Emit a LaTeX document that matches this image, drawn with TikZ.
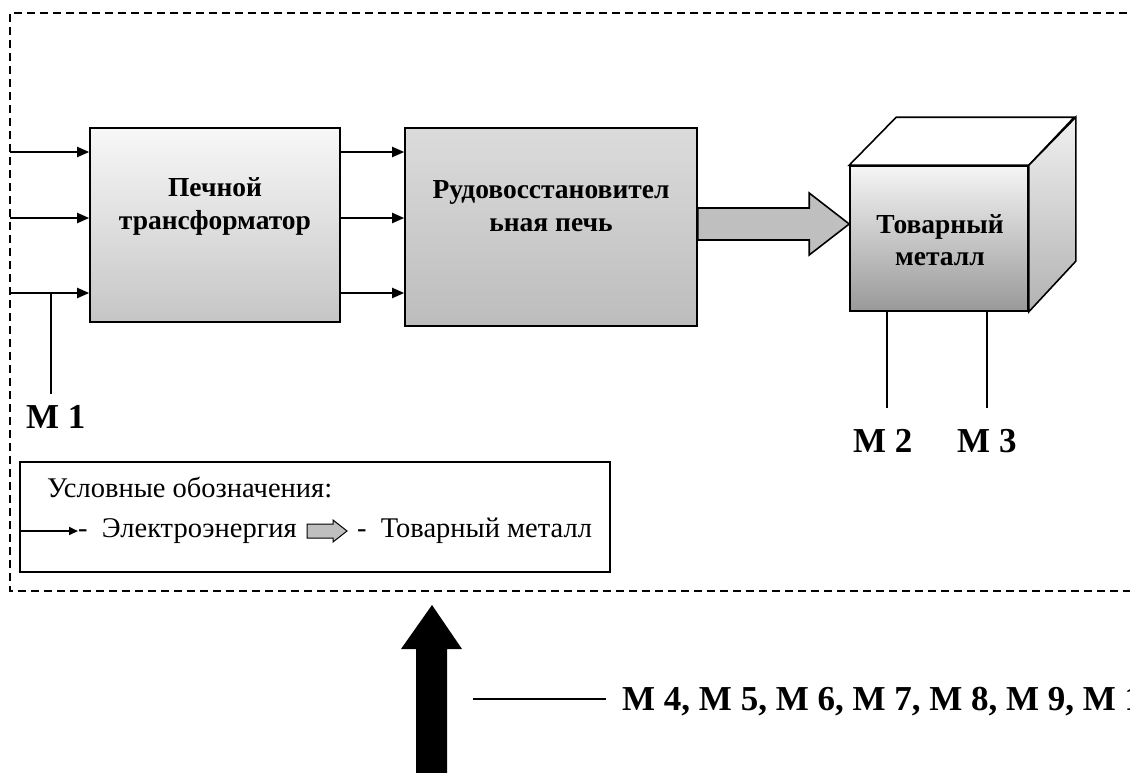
\documentclass[tikz,border=0pt]{standalone}
\usepackage{fontspec}
\setmainfont{Liberation Serif}
\usetikzlibrary{arrows.meta,positioning,calc}

\begin{document}
\begin{tikzpicture}[
    x=1pt, y=-1pt,
    >={Triangle[length=12pt,width=10pt]},
    unit/.style={rectangle, draw, line width=1.6pt, inner sep=0pt},
    trafo/.style={unit, top color=gray!6, bottom color=gray!45},
    furnace/.style={unit, top color=gray!28, bottom color=gray!52},
    metalfront/.style={unit, top color=gray!8, middle color=gray!40, bottom color=gray!80},
    unitlabel/.style={font=\fontsize{27.5}{33}\selectfont\bfseries, align=center, inner sep=0pt},
    power/.style={->, line width=2pt},
    metalarrow/.style={draw, line width=1.6pt, fill=gray!50},
    tap/.style={line width=1.3pt},
    mlabel/.style={font=\fontsize{35}{40}\selectfont\bfseries, inner sep=0pt},
    legendtext/.style={font=\fontsize{28.5}{30}\selectfont, inner sep=0pt},
    zone/.style={line width=1.5pt, dash pattern=on 8pt off 5pt}
]
    \useasboundingbox (0,0) rectangle (1130,772);
    \clip (0,0) rectangle (1130,772);

    % dashed plant boundary
    \draw[zone] (1140,13) -- (10,13) -- (10,591) -- (1140,591);

    % units
    \node[trafo, minimum width=250pt, minimum height=194pt] (trans) at (215,225) {};
    \node[unitlabel] (translabel) at (215,206) {Печной\\трансформатор};
    \node[furnace, minimum width=292pt, minimum height=198pt] (furn) at (551,227) {};
    \node[unitlabel] (furnlabel) at (551,206) {Рудовосстановител\\ьная печь};

    % product block
    \node[metalfront, minimum width=178pt, minimum height=145pt] (front) at (939,238.5) {};
    \filldraw[fill=white, line width=1.6pt] (front.north west) -- ++(47,-48) -- ++(178,0)
        -- (front.north east) -- cycle;
    \draw[line width=1.6pt, top color=gray!12, bottom color=gray!60] (front.north east)
        -- ++(47,-48) -- ++(0,144) -- (front.south east) -- cycle;
    \node[unitlabel, font=\fontsize{27.5}{32}\selectfont\bfseries] (metallabel) at (940,240) {Товарный\\металл};

    % power feed
    \coordinate (in1) at (10,152);
    \coordinate (in2) at (10,218);
    \coordinate (in3) at (10,293);
    \foreach \f in {in1,in2,in3} {
        \draw[power] (\f) -- (\f -| trans.west);
        \draw[power] (\f -| trans.east) -- (\f -| furn.west);
    }

    % metal flow
    \coordinate (flow) at (0,224);
    \coordinate (gtail) at (furn.east |- flow);
    \coordinate (gtip) at (front.west |- flow);
    \filldraw[metalarrow] ($(gtail)+(0,-16)$) -- ($(gtip)+(-40,-16)$) -- ($(gtip)+(-40,-31)$)
        -- (gtip) -- ($(gtip)+(-40,31)$) -- ($(gtip)+(-40,16)$) -- ($(gtail)+(0,16)$) -- cycle;

    % metering points
    \node[mlabel, anchor=base west] (m1) at (26,428) {М 1};
    \node[mlabel, anchor=base west] (m2) at (853,452) {М 2};
    \node[mlabel, anchor=base west] (m3) at (957,452) {М 3};
    \draw[tap] (51,293) -- (51,394);
    \draw[tap] (887,0 |- front.south) -- (887,408);
    \draw[tap] (987,0 |- front.south) -- (987,408);

    % legend
    \node[draw, line width=1.5pt, minimum width=590pt, minimum height=110pt] (legend) at (315,517) {};
    \node[legendtext, anchor=base west] (legtitle) at (47,497) {Условные обозначения:};
    \node[legendtext, anchor=west] (keypower) at (78,531) {-\ \ Электроэнергия};
    \draw[power, >={Triangle[length=9pt,width=8pt]}] (legend.west |- keypower) -- (keypower.west);
    \coordinate (keyicon) at ([xshift=10pt]keypower.east);
    \filldraw[metalarrow, line width=1pt] ($(keyicon)+(0,-7)$) -- ++(26,0) -- ++(0,-4) -- ++(14,11)
        -- ++(-14,11) -- ++(0,-4) -- ++(-26,0) -- cycle;
    \node[legendtext, anchor=west] (keymetal) at ([xshift=60pt]keypower.east) {-\ \ Товарный металл};

    % supply from outside
    \coordinate (mtip) at (432,605);
    \fill ($(mtip)+(-16,180)$) -- ($(mtip)+(-16,44)$) -- ($(mtip)+(-31,44)$) -- (mtip)
        -- ($(mtip)+(30,44)$) -- ($(mtip)+(15,44)$) -- ($(mtip)+(15,180)$) -- cycle;
    \node[mlabel, anchor=base west] (mlist) at (622,710) {М 4, М 5, М 6, М 7, М 8, М 9, М 10};
    \draw[tap] ([xshift=-16pt,yshift=11pt]mlist.base west) -- ++(-133,0);
\end{tikzpicture}
\end{document}
